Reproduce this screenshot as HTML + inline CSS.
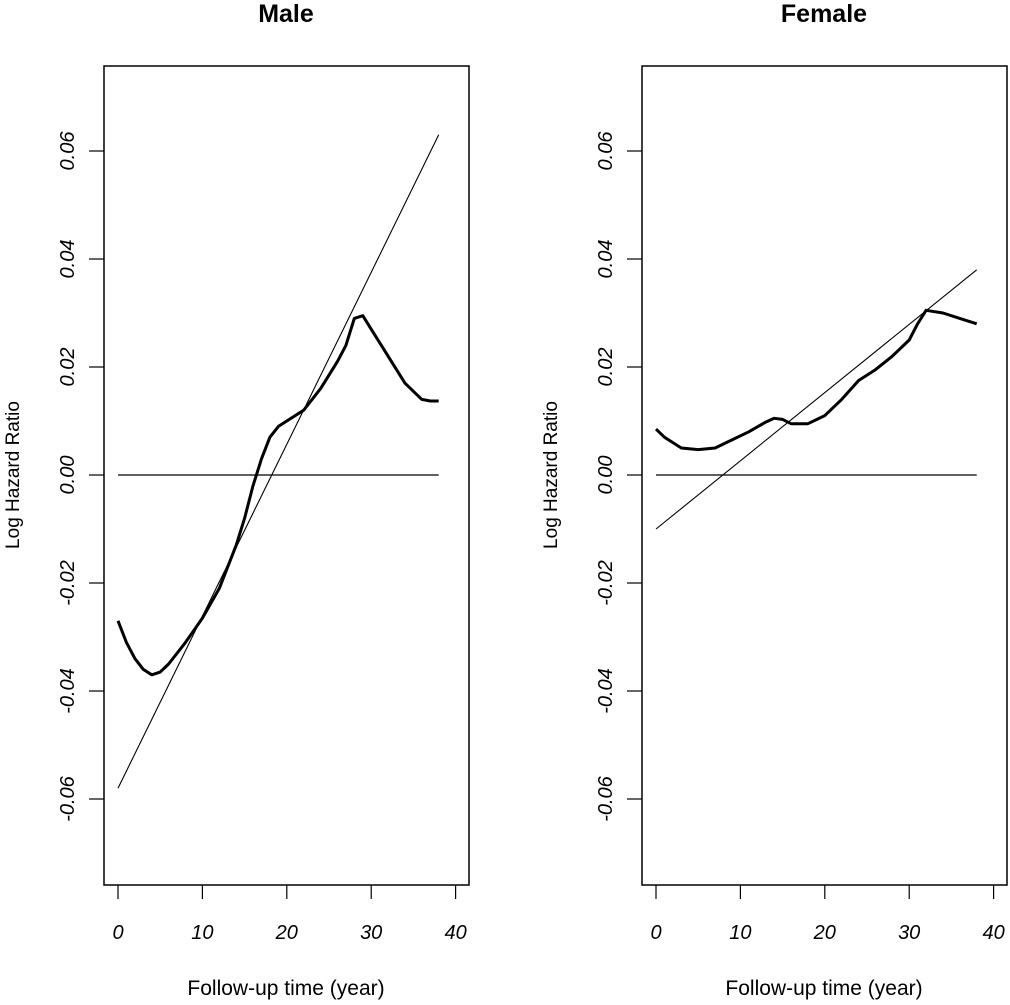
<!DOCTYPE html>
<html><head><meta charset="utf-8"><style>
body{margin:0;background:#fff;overflow:hidden;}
svg text{font-family:"Liberation Sans",sans-serif;fill:#000;}
</style></head><body>
<svg id="chart" width="1010" height="1000"></svg>
<script>
const xTicks=[0,10,20,30,40];
const yTicks=[0.06,0.04,0.02,0.00,-0.02,-0.04,-0.06];
const yTickLabels=["0.06","0.04","0.02","0.00","-0.02","-0.04","-0.06"];
const maleX=[0,1,2,3,4,5,6,8,10,12,14,15,16,17,18,19,20,22,24,26,27,28,29,30,32,34,36,37,38];
const maleY=[-0.027,-0.031,-0.034,-0.036,-0.037,-0.0365,-0.035,-0.031,-0.0265,-0.021,-0.013,-0.008,-0.002,0.003,0.007,0.009,0.010,0.012,0.016,0.021,0.024,0.029,0.0295,0.027,0.022,0.017,0.014,0.0137,0.0137];
const maleLine=[-0.058,0.063];
const femaleX=[0,1,2,3,5,7,9,11,13,14,15,16,18,20,22,24,26,28,30,31,32,34,36,38];
const femaleY=[0.0085,0.007,0.006,0.005,0.0047,0.005,0.0065,0.008,0.0098,0.0105,0.0103,0.0095,0.0095,0.011,0.014,0.0175,0.0195,0.022,0.025,0.028,0.0305,0.030,0.029,0.028];
const femaleLine=[-0.010,0.038];
const lineXRange=[0,38];

const NS="http://www.w3.org/2000/svg";
const svg=document.getElementById('chart');
function mk(tag,attrs,parent){const e=document.createElementNS(NS,tag);for(const k in attrs)e.setAttribute(k,attrs[k]);(parent||svg).appendChild(e);return e;}
const yScale=v=>475-v*5400;
function panel(ox,title,xs,ys,line,key){
  const g=mk('g',{});
  
  
  const xScale=v=>ox+118+v*8.44;
  const t=mk('text',{x:ox+286,y:22,'text-anchor':'middle','font-size':'25','font-weight':'bold'},g);t.textContent=title;
  
  const box=mk('rect',{x:ox+104,y:66,width:365,height:819,fill:'none',stroke:'#000','stroke-width':'1.5'},g);
  
  xTicks.forEach(v=>{
    const x=xScale(v);
    const l=mk('line',{x1:x,x2:x,y1:885,y2:899,stroke:'#000','stroke-width':'1.2'},g);
    
    const tx=mk('text',{x:x,y:939,'text-anchor':'middle','font-size':'20','font-style':'italic'},g);tx.textContent=v;
    
  });
  yTicks.forEach((v,i)=>{
    const y=yScale(v);
    const l=mk('line',{x1:ox+89,x2:ox+104,y1:y,y2:y,stroke:'#000','stroke-width':'1.2'},g);
    
    const tx=mk('text',{x:ox+74,y:y,'text-anchor':'middle','font-size':'20','font-style':'italic',transform:`rotate(-90 ${ox+74} ${y})`},g);tx.textContent=yTickLabels[i];
    
  });
  const xl=mk('text',{x:ox+286,y:995,'text-anchor':'middle','font-size':'21'},g);xl.textContent='Follow-up time (year)';
  
  const yl=mk('text',{x:ox+19,y:475,'text-anchor':'middle','font-size':'19',transform:`rotate(-90 ${ox+19} 475)`},g);yl.textContent='Log Hazard Ratio';
  
  const z=mk('line',{x1:xScale(lineXRange[0]),x2:xScale(lineXRange[1]),y1:yScale(0),y2:yScale(0),stroke:'#000','stroke-width':'1.2'},g);
  
  const lf=mk('line',{x1:xScale(lineXRange[0]),x2:xScale(lineXRange[1]),y1:yScale(line[0]),y2:yScale(line[1]),stroke:'#000','stroke-width':'1.1'},g);
  
  const p=mk('path',{d:xs.map((x,i)=>(i?'L':'M')+xScale(x).toFixed(1)+' '+yScale(ys[i]).toFixed(1)).join(' '),fill:'none',stroke:'#000','stroke-width':'3','stroke-linejoin':'round'},g);
  
}
panel(0,'Male',maleX,maleY,maleLine,'male');
panel(538,'Female',femaleX,femaleY,femaleLine,'female');
</script>
</body></html>
